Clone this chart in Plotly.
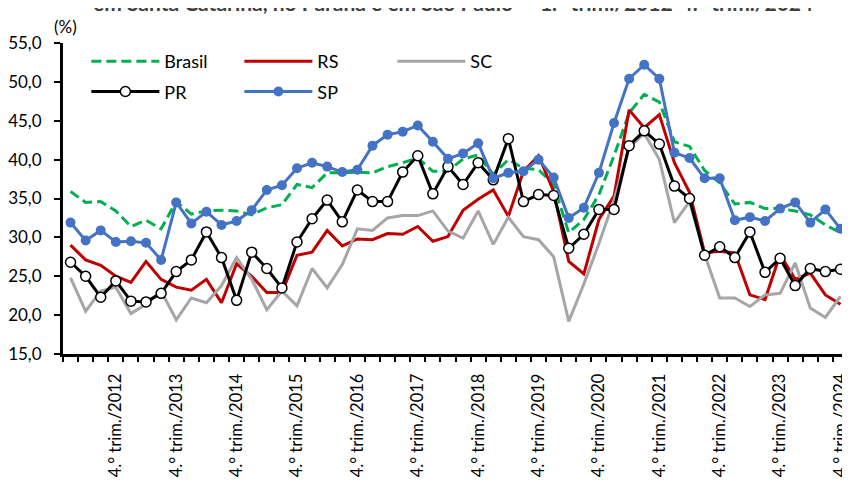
import plotly.graph_objects as go

years = list(range(2012, 2025))
quarters = [f"{q}.° trim./{y}" for y in years for q in range(1, 5)]
idx = list(range(len(quarters)))
tick_idx = [i for i, q in enumerate(quarters) if q.startswith("4.")]
tick_txt = [quarters[i] for i in tick_idx]

brasil = [35.9, 34.5, 34.6, 33.4, 31.4, 32.2, 31.1, 34.6, 33.0, 33.4,
          33.5, 33.4, 32.9, 33.8, 34.2, 36.8, 36.4, 38.3, 38.3, 38.4,
          38.3, 39.1, 39.6, 40.2, 38.5, 38.5, 40.1, 40.6, 38.1, 40.0,
          38.9, 38.7, 36.8, 30.6, 32.3, 35.5, 40.5, 46.0, 48.4, 47.4,
          42.3, 41.7, 38.6, 37.0, 34.3, 34.5, 33.7, 33.7, 33.4, 32.9,
          31.6, 30.6]
rs = [29.0, 27.1, 26.4, 25.0, 24.2, 26.9, 24.6, 23.6, 23.2, 24.6,
      21.6, 26.6, 25.0, 22.9, 22.9, 27.7, 28.1, 30.9, 28.9, 29.8,
      29.7, 30.5, 30.4, 31.4, 29.5, 30.1, 33.5, 34.9, 36.1, 32.7,
      38.5, 40.5, 35.9, 26.9, 25.3, 32.3, 35.3, 46.4, 44.1, 45.8,
      39.6, 35.8, 28.0, 28.2, 28.0, 22.6, 22.0, 27.8, 24.6, 25.4,
      22.6, 21.4]
sc = [24.8, 20.5, 23.1, 23.6, 20.2, 21.4, 23.1, 19.4, 22.2, 21.6,
      23.8, 27.4, 24.6, 20.7, 23.1, 21.2, 26.0, 23.5, 26.5, 31.1,
      30.9, 32.5, 32.8, 32.8, 33.4, 30.8, 29.9, 33.4, 29.1, 32.6,
      30.1, 29.7, 27.5, 19.2, 24.0, 29.2, 34.8, 41.5, 43.4, 40.0,
      31.9, 34.6, 27.8, 22.2, 22.2, 21.1, 22.6, 22.8, 26.7, 20.9,
      19.7, 22.4]
pr = [26.8, 25.0, 22.3, 24.4, 21.8, 21.7, 22.8, 25.6, 27.1, 30.7,
      27.4, 21.9, 28.1, 26.0, 23.5, 29.4, 32.4, 34.8, 32.0, 36.1,
      34.6, 34.6, 38.4, 40.5, 35.6, 39.1, 36.8, 39.6, 37.4, 42.7,
      34.6, 35.5, 35.4, 28.6, 30.4, 33.6, 33.6, 41.8, 43.7, 42.0,
      36.6, 35.0, 27.7, 28.8, 27.4, 30.7, 25.5, 27.3, 23.8, 26.0,
      25.6, 25.9]
sp = [31.9, 29.6, 30.9, 29.4, 29.5, 29.3, 27.1, 34.5, 31.8, 33.3,
      31.6, 32.1, 33.5, 36.1, 36.7, 38.9, 39.6, 39.1, 38.4, 38.7,
      41.8, 43.2, 43.6, 44.4, 42.3, 40.1, 40.8, 42.1, 37.6, 38.3,
      38.5, 40.0, 37.7, 32.5, 33.8, 38.3, 44.7, 50.4, 52.2, 50.4,
      40.9, 40.2, 37.6, 37.6, 32.2, 32.6, 32.1, 33.7, 34.5, 31.9,
      33.6, 31.1]

FONT = "Lato"

fig = go.Figure()
fig.add_trace(go.Scatter(x=idx, y=brasil, name="Brasil", mode="lines",
                         line=dict(color="#00B050", width=3, dash="10px,5px"),
                         legend="legend"))
fig.add_trace(go.Scatter(x=idx, y=rs, name="RS", mode="lines",
                         line=dict(color="#C00000", width=3), legend="legend"))
fig.add_trace(go.Scatter(x=idx, y=sc, name="SC", mode="lines",
                         line=dict(color="#A6A6A6", width=3), legend="legend"))
fig.add_trace(go.Scatter(x=idx, y=pr, name="PR", mode="lines+markers",
                         line=dict(color="#000000", width=3),
                         marker=dict(symbol="circle", size=10, color="#FFFFFF",
                                     line=dict(color="#000000", width=1.5)),
                         legend="legend2"))
fig.add_trace(go.Scatter(x=idx, y=sp, name="SP", mode="lines+markers",
                         line=dict(color="#4472C4", width=3),
                         marker=dict(symbol="circle", size=10, color="#4472C4"),
                         legend="legend2"))

leg_common = dict(orientation="h", xanchor="left", yanchor="middle",
                  entrywidth=70, entrywidthmode="pixels", itemwidth=68,
                  font=dict(family=FONT, size=18), bgcolor="rgba(0,0,0,0)")

fig.update_layout(
    width=842, height=478,
    margin=dict(l=55, r=0, t=35, b=132, pad=0),
    paper_bgcolor="white", plot_bgcolor="white",
    separators=",.",
    font=dict(family=FONT, size=17, color="#000000"),
    showlegend=True,
    legend=dict(x=0.030, y=0.94, **leg_common),
    legend2=dict(x=0.030, y=0.843, **leg_common),
    xaxis=dict(range=[-0.5, 51.1], showgrid=False, zeroline=False,
               showline=True, linecolor="black", linewidth=3,
               tickmode="array", tickvals=tick_idx, ticktext=tick_txt,
               ticks="", tickangle=-90, ticklabelstandoff=10,
               ticklabeloverflow="allow",
               tickfont=dict(family=FONT, size=16.5),
               minor=dict(tick0=-0.5, dtick=1, ticks="outside", ticklen=5,
                          tickwidth=2, tickcolor="black", showgrid=False)),
    yaxis=dict(range=[15, 55], dtick=5, tickformat=".1f", showgrid=False,
               zeroline=False, showline=True, linecolor="black", linewidth=3,
               ticks="outside", ticklen=6, tickwidth=2, tickcolor="black",
               ticklabelstandoff=9, tickfont=dict(family=FONT, size=17)),
    annotations=[
        dict(text="(%)", xref="paper", yref="paper", x=0.003, y=1.053,
             xanchor="center", yanchor="middle", showarrow=False,
             font=dict(family=FONT, size=17)),
        dict(text="em Santa Catarina, no Paraná e em São Paulo — 1.º trim./2012-4.º trim./2024",
             xref="paper", yref="paper", x=0.5, y=1.084, xanchor="center",
             yanchor="bottom", showarrow=False,
             font=dict(family=FONT, size=21, color="#404040", weight="bold")),
    ],
)

fig.write_html("out.html")
